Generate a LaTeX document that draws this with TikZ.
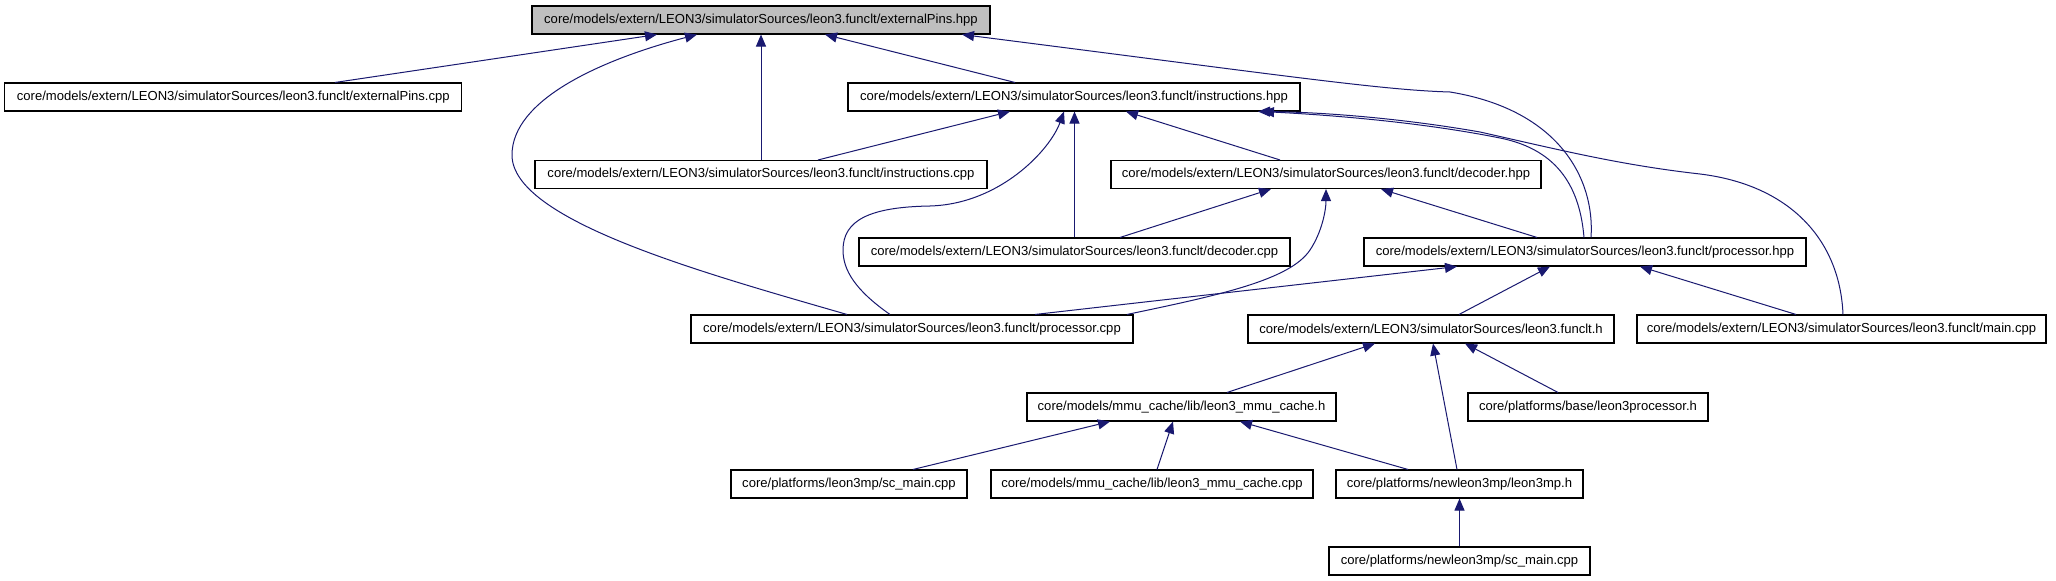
\documentclass[tikz,border=0pt]{standalone}
\usepackage{fontspec}
\setmainfont{Liberation Sans}
\usetikzlibrary{arrows.meta,calc}
\definecolor{midnight}{HTML}{191970}
\begin{document}
\begin{tikzpicture}[x=0.75pt,y=-0.75pt,
  box/.style={draw=black, line width=0.8pt, inner sep=0pt, minimum height=21pt, fill=white, font=\fontsize{9.8}{11}\selectfont},
  bw/.style={minimum width={#1*0.75pt}},
  edge/.style={draw=midnight, line width=0.75pt, -{Triangle[length=9pt,width=7.5pt]}, fill=none}]
\useasboundingbox (0,0) rectangle (2056,581);
\fill[white] (0,0) rectangle (2056,581);
% nodes
\node[box, bw=458, fill=black!25] (A) at (761,20) {core/models/extern/LEON3/simulatorSources/leon3.funclt/externalPins.hpp};
\node[box, bw=457] (B) at (233.3,97) {core/models/extern/LEON3/simulatorSources/leon3.funclt/externalPins.cpp};
\node[box, bw=452] (C) at (1074,97) {core/models/extern/LEON3/simulatorSources/leon3.funclt/instructions.hpp};
\node[box, bw=452] (D) at (761,174.5) {core/models/extern/LEON3/simulatorSources/leon3.funclt/instructions.cpp};
\node[box, bw=430] (E) at (1326,174.5) {core/models/extern/LEON3/simulatorSources/leon3.funclt/decoder.hpp};
\node[box, bw=431] (F) at (1074.5,252) {core/models/extern/LEON3/simulatorSources/leon3.funclt/decoder.cpp};
\node[box, bw=442] (G) at (1585,252) {core/models/extern/LEON3/simulatorSources/leon3.funclt/processor.hpp};
\node[box, bw=442] (H) at (912,329) {core/models/extern/LEON3/simulatorSources/leon3.funclt/processor.cpp};
\node[box, bw=366] (I) at (1431,329) {core/models/extern/LEON3/simulatorSources/leon3.funclt.h};
\node[box, bw=409] (J) at (1841.5,329) {core/models/extern/LEON3/simulatorSources/leon3.funclt/main.cpp};
\node[box, bw=309] (K) at (1181.5,407) {core/models/mmu\_cache/lib/leon3\_mmu\_cache.h};
\node[box, bw=240] (L) at (1588,407) {core/platforms/base/leon3processor.h};
\node[box, bw=236] (M) at (849,484) {core/platforms/leon3mp/sc\_main.cpp};
\node[box, bw=322] (N) at (1152,484) {core/models/mmu\_cache/lib/leon3\_mmu\_cache.cpp};
\node[box, bw=247] (O) at (1459.5,484) {core/platforms/newleon3mp/leon3mp.h};
\node[box, bw=261] (P) at (1459.5,561) {core/platforms/newleon3mp/sc\_main.cpp};
% edges into A
\draw[edge] ($(B.north)+(101.7,0)$) -- ($(A.south)+(-104,0)$);
\draw[edge] ($(H.north)+(-65,0)$) .. controls (700,272) and (512,220) .. (512,155) .. controls (512,100) and (600,60) .. ($(A.south)+(-64,0)$);
\draw[edge] (D.north) -- (A.south);
\draw[edge] ($(C.north)+(-59,0)$) -- ($(A.south)+(64,0)$);
\draw[edge] ($(G.north)+(6,0)$) .. controls (1595,180) and (1560,110) .. (1450,92) .. controls (1380,90) and (1280,75) .. ($(A.south)+(201,0)$);
% edges into C
\draw[edge] ($(D.north)+(57,0)$) -- ($(C.south)+(-64,0)$);
\draw[edge] ($(H.north)+(-22,0)$) .. controls (855,290) and (843,270) .. (843,250) .. controls (843,220) and (870,207) .. (930,206) .. controls (1000,204) and (1050,150) .. ($(C.south)+(-10,0)$);
\draw[edge] (F.north) -- (F.north |- C.south);
\draw[edge] ($(E.north)+(-46,0)$) -- ($(C.south)+(52,0)$);
\draw[edge] ($(G.north)+(-1,0)$) .. controls (1580,190) and (1560,150) .. (1500,138) .. controls (1420,122) and (1330,115) .. ($(C.south)+(188,0)$);
\draw[edge] ($(J.north)+(1.5,0)$) .. controls (1840,240) and (1790,185) .. (1700,174) .. controls (1620,165) and (1560,150) .. (1480,132) .. controls (1400,118) and (1320,112) .. ($(C.south)+(184,0)$);
% edges into E
\draw[edge] ($(F.north)+(45.5,0)$) -- ($(E.south)+(-55,0)$);
\draw[edge] ($(H.north)+(215,0)$) .. controls (1220,295) and (1290,280) .. (1310,250) .. controls (1322,232) and (1326,210) .. (E.south);
\draw[edge] ($(G.north)+(-48,0)$) -- ($(E.south)+(55,0)$);
% edges into G
\draw[edge] ($(H.north)+(123,0)$) -- ($(G.south)+(-128,0)$);
\draw[edge] ($(I.north)+(28,0)$) -- ($(G.south)+(-35,0)$);
\draw[edge] ($(J.north)+(-45.5,0)$) -- ($(G.south)+(55,0)$);
% edges into I
\draw[edge] ($(K.north)+(45.5,0)$) -- ($(I.south)+(-56,0)$);
\draw[edge] ($(L.north)+(-30,0)$) -- ($(I.south)+(34,0)$);
\draw[edge] ($(O.north)+(-2.5,0)$) -- ($(I.south)+(2,0)$);
% edges into K
\draw[edge] ($(M.north)+(64,0)$) -- ($(K.south)+(-71.5,0)$);
\draw[edge] ($(N.north)+(5,0)$) -- ($(K.south)+(-8.5,0)$);
\draw[edge] ($(O.north)+(-51.5,0)$) -- ($(K.south)+(58.5,0)$);
% edge into O
\draw[edge] (P.north) -- (O.south);
\end{tikzpicture}
\end{document}
